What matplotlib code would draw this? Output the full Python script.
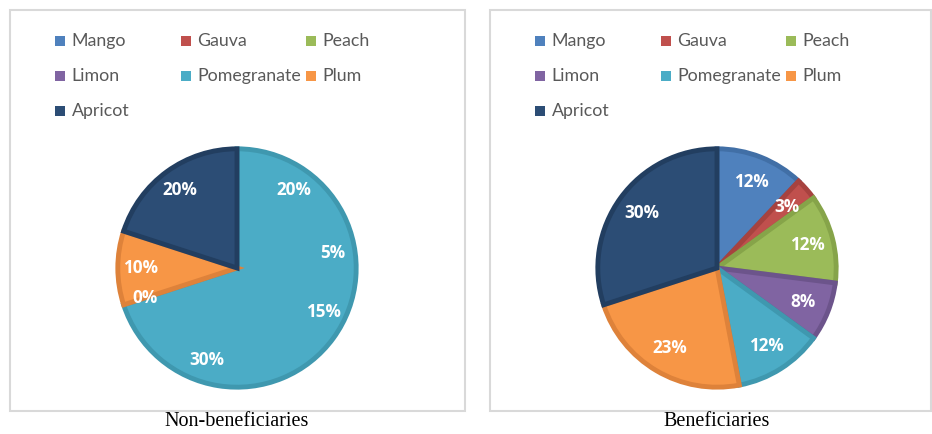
import matplotlib
matplotlib.use('Agg')
import matplotlib.pyplot as plt
from matplotlib.patches import Rectangle

fruits = ['Mango', 'Gauva', 'Peach', 'Limon', 'Pomegranate', 'Plum', 'Apricot']
non_benef = [20, 5, 15, 30, 0, 10, 20]
benef = [12, 3, 12, 8, 12, 23, 30]
titles = ['Non-beneficiaries', 'Beneficiaries']

face = ['#4F81BD', '#C0504D', '#9BBB59', '#8064A2', '#4BACC6', '#F79646', '#2C4D75']
edge = ['#416FA6', '#A7423F', '#86A449', '#6C548B', '#3F98AF', '#DE823A', '#223E60']

W, H = 932, 434
fig = plt.figure(figsize=(W / 100, H / 100), dpi=100)

def px_axes(cx, cy, r):
    return fig.add_axes([(cx - r) / W, (H - cy - r) / H, 2 * r / W, 2 * r / H])

def draw_panel(x0, x1, cx, values, title, merged):
    # frame
    fig.add_artist(Rectangle((x0 / W, (H - 411) / H), (x1 - x0) / W, 401 / H,
                             transform=fig.transFigure, fill=False,
                             edgecolor='#D9D9D9', linewidth=1.5))
    fig.text(cx / W, (H - 422) / H, title, ha='center', va='center',
             fontsize=14.5, family='Liberation Serif')

    # legend, 3 per row like excel
    for i, (name, c) in enumerate(zip(fruits, face)):
        row, col = divmod(i, 3)
        lx = x0 + 45 + col * 125.5
        ly = 41 + row * 35
        fig.add_artist(Rectangle((lx / W, (H - ly - 5) / H), 10 / W, 10 / H,
                                 transform=fig.transFigure, facecolor=c,
                                 edgecolor='none'))
        fig.text((lx + 16.5) / W, (H - ly) / H, name, ha='left', va='center',
                 fontsize=12.8, family='Lato', color='#595959')

    ax = px_axes(cx, 268, 121)
    if merged:
        # first five slices were plotted in the same colour -> one region
        grouped = [sum(values[:5])] + values[5:]
        ax.pie(grouped, colors=[face[4], face[5], face[6]], startangle=90,
               counterclock=False, radius=0.985,
               wedgeprops=dict(linewidth=3.5))
        for w, ec in zip(ax.patches, [edge[4], edge[5], edge[6]]):
            w.set_edgecolor(ec)
        _, texts, autotexts = ax.pie(values, colors=['none'] * 7, startangle=90,
                                     counterclock=False, autopct='%d%%',
                                     pctdistance=0.8, labels=None,
                                     wedgeprops=dict(linewidth=0))
    else:
        wedges, _, autotexts = ax.pie(values, colors=face, startangle=90,
                                      counterclock=False, autopct='%d%%',
                                      pctdistance=0.78, radius=0.985,
                                      wedgeprops=dict(linewidth=3.5))
        for w, ec in zip(wedges, edge):
            w.set_edgecolor(ec)
    for t in autotexts:
        t.set_color('white')
        t.set_fontweight('bold')
        t.set_fontsize(12.3)
        t.set_family('Open Sans')
    ax.set_xlim(-1, 1)
    ax.set_ylim(-1, 1)
    ax.set_aspect('equal')
    ax.axis('off')

draw_panel(10, 465, 237, non_benef, titles[0], True)
draw_panel(490, 931, 717, benef, titles[1], False)

plt.savefig('out.png', dpi=100)
